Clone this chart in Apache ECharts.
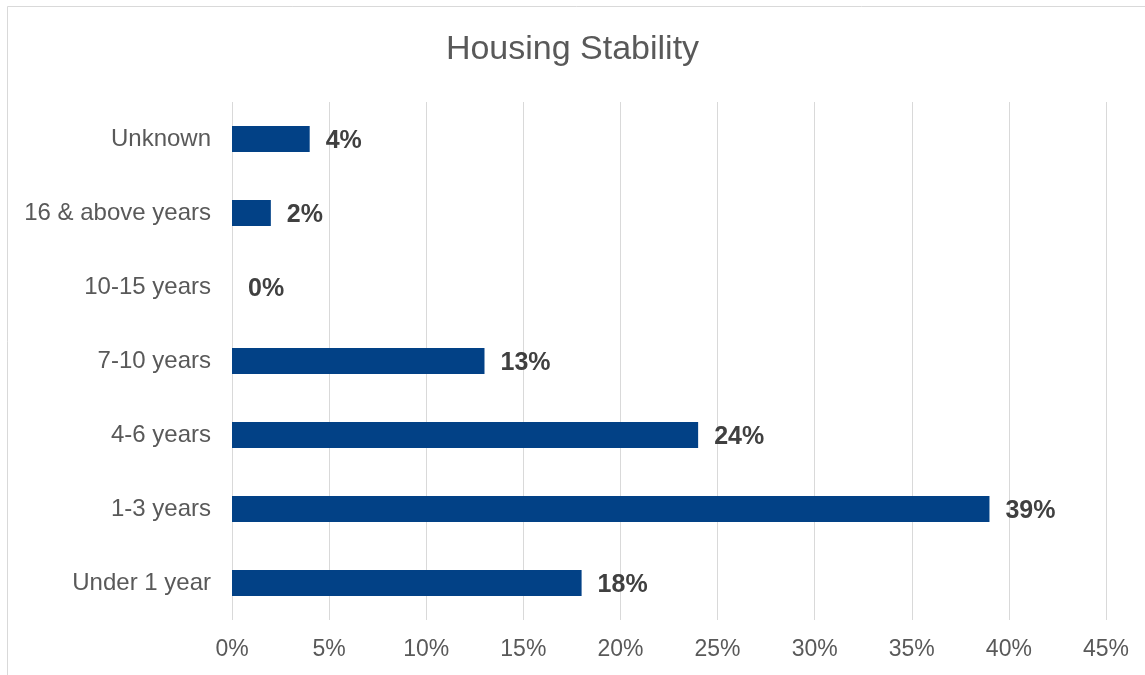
<!DOCTYPE html>
<html>
<head>
<meta charset="utf-8">
<script src="https://cdn.jsdelivr.net/npm/echarts@6/dist/echarts.min.js"></script>
<style>
  html, body { margin: 0; padding: 0; background: #fff; }
  #chart { width: 1145px; height: 675px; }
</style>
</head>
<body>
<div id="chart"></div>
<script>
// Housing stability: share of respondents by time at current residence
const categories = ['Under 1 year', '1-3 years', '4-6 years', '7-10 years', '10-15 years', '16 & above years', 'Unknown'];
const shares = [18, 39, 24, 13, 0, 2, 4];
const xTicks = [0, 5, 10, 15, 20, 25, 30, 35, 40, 45];

const FONT = 'Liberation Sans, Arial, sans-serif';

const chart = echarts.init(document.getElementById('chart'));
chart.setOption({
  animation: false,
  backgroundColor: '#ffffff',
  title: {
    text: 'Housing Stability',
    left: 'center',
    top: 28,
    textStyle: { fontFamily: FONT, fontSize: 34, fontWeight: 'normal', color: '#595959' }
  },
  graphic: [{
    type: 'rect',
    shape: { x: 7.5, y: 6.5, width: 1160, height: 700 },
    style: { fill: 'none', stroke: '#d9d9d9', lineWidth: 1 },
    silent: true
  }],
  grid: { left: 232, right: 39, top: 102, bottom: 55, containLabel: false },
  xAxis: {
    type: 'value',
    min: xTicks[0],
    max: xTicks[xTicks.length - 1],
    interval: 5,
    axisLine: { show: false },
    axisTick: { show: false },
    splitLine: { show: true, lineStyle: { color: '#d9d9d9', width: 1 } },
    axisLabel: {
      formatter: v => v + '%',
      fontFamily: FONT,
      fontSize: 23,
      color: '#595959',
      margin: 18
    }
  },
  yAxis: {
    type: 'category',
    data: categories,
    axisLine: { show: false },
    axisTick: { show: false },
    axisLabel: {
      fontFamily: FONT,
      fontSize: 24,
      color: '#595959',
      margin: 21,
      padding: [4, 0, 0, 0]
    }
  },
  series: [{
    type: 'bar',
    data: shares,
    barWidth: 26,
    itemStyle: { color: '#024186' },
    label: {
      show: true,
      position: 'right',
      distance: 16,
      offset: [0, 2],
      formatter: p => p.value + '%',
      fontFamily: FONT,
      fontSize: 25,
      fontWeight: 'bold',
      color: '#404040'
    }
  }]
});
</script>
</body>
</html>
